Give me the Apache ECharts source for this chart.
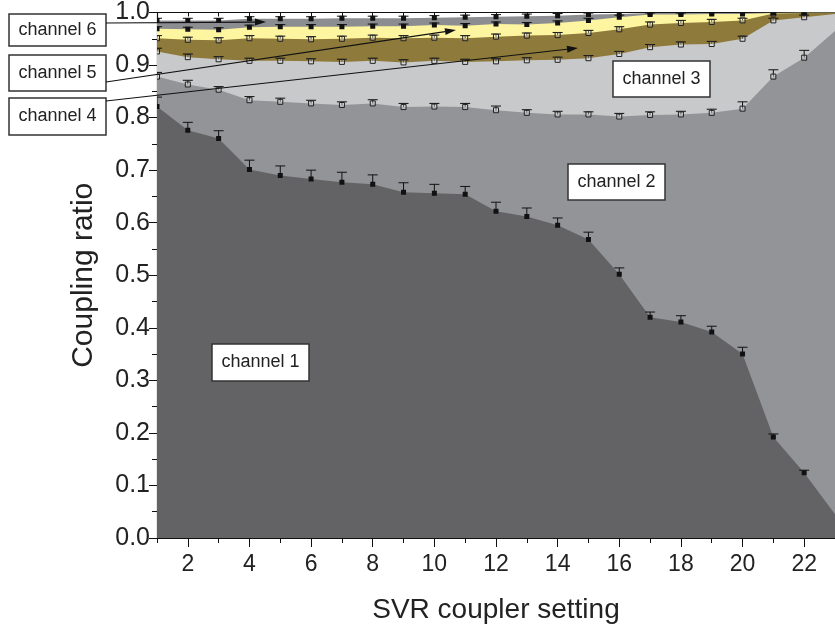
<!DOCTYPE html>
<html>
<head>
<meta charset="utf-8">
<script src="https://cdn.jsdelivr.net/npm/echarts@6/dist/echarts.min.js"></script>
<style>html,body{margin:0;padding:0;background:#fff}#c{width:835px;height:632px}</style>
</head>
<body>
<div id="c"></div>
<script>
// SVR coupler settings
const settings = [1,2,3,4,5,6,7,8,9,10,11,12,13,14,15,16,17,18,19,20,21,22,23];
// Cumulative coupling ratio at the top of each channel
const ch1 = [0.821,0.776,0.760,0.701,0.690,0.683,0.677,0.673,0.658,0.656,0.654,0.622,0.612,0.595,0.568,0.502,0.420,0.411,0.392,0.350,0.192,0.124,0.045];
const ch2 = [0.878,0.863,0.853,0.833,0.830,0.827,0.824,0.827,0.820,0.821,0.820,0.814,0.809,0.806,0.806,0.802,0.805,0.806,0.809,0.817,0.878,0.914,0.965];
const ch3 = [0.926,0.915,0.911,0.908,0.908,0.907,0.906,0.908,0.905,0.908,0.906,0.907,0.909,0.910,0.913,0.921,0.934,0.939,0.940,0.950,0.985,0.991,0.997];
const ch4 = [0.951,0.948,0.947,0.951,0.950,0.949,0.950,0.952,0.951,0.952,0.951,0.954,0.956,0.957,0.961,0.968,0.977,0.980,0.982,0.985,0.998,0.999,0.999];
const ch5 = [0.969,0.968,0.967,0.972,0.973,0.973,0.973,0.974,0.974,0.976,0.975,0.978,0.977,0.980,0.985,0.991,0.996,0.996,0.997,0.997,0.999,1.000,1.000];
const ch6 = [0.985,0.985,0.985,0.988,0.988,0.988,0.989,0.989,0.989,0.990,0.991,0.992,0.993,0.994,0.996,0.997,0.999,0.999,0.999,0.999,1.000,1.000,1.000];
// Upward error bar sizes
const err1 = [0.018,0.015,0.015,0.018,0.018,0.017,0.019,0.018,0.018,0.017,0.015,0.017,0.016,0.014,0.014,0.012,0.010,0.012,0.011,0.013,0.006,0.005,0.005];
const err2 = [0.008,0.008,0.006,0.007,0.007,0.006,0.006,0.007,0.007,0.006,0.007,0.008,0.006,0.006,0.005,0.006,0.006,0.006,0.007,0.013,0.013,0.014,0.010];
const err3 = [0.006,0.006,0.005,0.005,0.005,0.005,0.005,0.005,0.005,0.005,0.005,0.005,0.005,0.005,0.005,0.005,0.005,0.005,0.005,0.005,0.004,0.004,0.004];
const err4 = [0.005,0.005,0.005,0.005,0.005,0.005,0.005,0.005,0.005,0.005,0.005,0.005,0.005,0.005,0.005,0.005,0.005,0.005,0.005,0.004,0.004,0.003,0.003];
const err5 = [0.004,0.004,0.004,0.004,0.004,0.004,0.004,0.004,0.004,0.004,0.004,0.004,0.004,0.004,0.004,0.004,0.003,0.003,0.003,0.003,0.003,0.002,0.002];
const err6 = [0.004,0.004,0.004,0.004,0.004,0.004,0.004,0.004,0.004,0.004,0.004,0.004,0.004,0.004,0.003,0.003,0.003,0.003,0.003,0.003,0.002,0.002,0.002];
const xTickLabels = [2,4,6,8,10,12,14,16,18,20,22];
const channelNames = ['channel 1','channel 2','channel 3','channel 4','channel 5','channel 6'];

const tops = [ch1,ch2,ch3,ch4,ch5,ch6];
const errs = [err1,err2,err3,err4,err5,err6];
const fills = ['#636365','#939497','#c8c9cb','#8e7a3b','#fef5a0','#8c8d90'];
const filledMarker = [true,false,false,false,true,true];
const FONT = '"Liberation Sans", Arial, Helvetica, sans-serif';
const X_MAX = 23;

const chart = echarts.init(document.getElementById('c'), null, {renderer:'canvas'});

const series = [];
// draw from the top channel down so each lower channel covers the one above
for (let k = 5; k >= 0; k--) {
  series.push({
    type:'line', name: channelNames[k], xAxisIndex:0, yAxisIndex:0,
    data: settings.map((x,i)=>[x, tops[k][i]]),
    symbol:'none', lineStyle:{width:0}, areaStyle:{color:fills[k], opacity:1},
    silent:true, z:2
  });
}
const ebData = [];
for (let k = 0; k < 6; k++) {
  settings.forEach((x,i)=>{ if (x < X_MAX) ebData.push([x, tops[k][i], errs[k][i], filledMarker[k]?1:0]); });
}
series.push({
  type:'custom', xAxisIndex:0, yAxisIndex:0, z:5, silent:true, clip:true,
  data: ebData,
  renderItem: function(params, api){
    const x = api.value(0), y = api.value(1), e = api.value(2), f = api.value(3);
    const p = api.coord([x,y]);
    const q = api.coord([x,y+e]);
    const children = [
      {type:'line', shape:{x1:p[0],y1:p[1],x2:q[0],y2:q[1]}, style:{stroke:'#111',lineWidth:1}},
      {type:'line', shape:{x1:q[0]-5,y1:q[1],x2:q[0]+5,y2:q[1]}, style:{stroke:'#111',lineWidth:1}},
      {type:'rect', shape:{x:p[0]-2.5,y:p[1]-2.5,width:5,height:5},
       style: f ? {fill:'#111'} : {fill:'rgba(255,255,255,0.3)', stroke:'#222', lineWidth:1}}
    ];
    return {type:'group', children:children};
  }
});

function box(x,y,w,h,txt){
  return [
    {type:'rect', z:100, shape:{x:x,y:y,width:w,height:h}, style:{fill:'#fff', stroke:'#333', lineWidth:1.5}},
    {type:'text', z:101, x:x+w/2, y:y+h/2, style:{text:txt, font:'18px '+FONT, fill:'#222', align:'center', verticalAlign:'middle'}}
  ];
}
function arrow(x1,y1,x2,y2){
  const a = Math.atan2(y2-y1, x2-x1), L = 11, W = 3.5;
  const bx = x2 - L*Math.cos(a), by = y2 - L*Math.sin(a);
  const nx = -Math.sin(a), ny = Math.cos(a);
  return [
    {type:'line', z:100, shape:{x1:x1,y1:y1,x2:bx,y2:by}, style:{stroke:'#111', lineWidth:1.2}},
    {type:'polygon', z:100, shape:{points:[[x2,y2],[bx+nx*W,by+ny*W],[bx-nx*W,by-ny*W]]}, style:{fill:'#111'}}
  ];
}

const graphics = [].concat(
  box(9,14,97,32,channelNames[5]),
  box(9,55,97,36,channelNames[4]),
  box(9,98,97,37,channelNames[3]),
  box(613,61,97,36,channelNames[2]),
  box(568,164,97,36,channelNames[1]),
  box(212,344,97,37,channelNames[0]),
  arrow(106,23,266,22), arrow(106,82,456,30), arrow(106,101,578,48)
);

chart.setOption({
  animation:false,
  backgroundColor:'#fff',
  grid:{left:157, right:-5, top:12, bottom:94, containLabel:false},
  xAxis:[
    {type:'value', min:1, max:X_MAX, interval:1, position:'bottom',
     name:'SVR coupler setting', nameLocation:'middle', nameGap:58,
     nameTextStyle:{color:'#222', fontSize:28, fontFamily:FONT},
     axisLine:{show:true, onZero:false, lineStyle:{color:'#111', width:1.2}},
     axisTick:{show:true, inside:false, length:5, lineStyle:{color:'#111'}},
     axisLabel:{show:true, customValues:xTickLabels, margin:15, color:'#222', fontSize:23, fontFamily:FONT},
     splitLine:{show:false}},
    {type:'value', min:1, max:X_MAX, position:'bottom',
     axisLine:{show:false, onZero:false},
     axisTick:{show:true, inside:false, length:9, customValues:xTickLabels, lineStyle:{color:'#111'}},
     axisLabel:{show:false}, splitLine:{show:false}},
    {type:'value', min:1, max:X_MAX, interval:1, position:'top',
     axisLine:{show:true, onZero:false, lineStyle:{color:'#111', width:1.2}},
     axisTick:{show:true, inside:true, length:4, lineStyle:{color:'#111'}},
     axisLabel:{show:false}, splitLine:{show:false}}
  ],
  yAxis:[
    {type:'value', min:0, max:1, interval:0.1, position:'left',
     name:'Coupling ratio', nameLocation:'middle', nameGap:58, nameRotate:90,
     nameTextStyle:{color:'#222', fontSize:30, fontFamily:FONT},
     axisLine:{show:true, onZero:false, lineStyle:{color:'#111', width:1.2}},
     axisTick:{show:true, inside:false, length:8, lineStyle:{color:'#111'}},
     minorTick:{show:true, splitNumber:2, length:5, lineStyle:{color:'#111'}},
     axisLabel:{show:true, margin:7, formatter:v=>v.toFixed(1), color:'#222', fontSize:25, fontFamily:FONT},
     splitLine:{show:false}},
    {type:'value', min:0, max:1, interval:0.1, position:'right',
     axisLine:{show:true, onZero:false, lineStyle:{color:'#111', width:1.2}},
     axisTick:{show:true, inside:true, length:5, lineStyle:{color:'#111'}},
     axisLabel:{show:false}, splitLine:{show:false}}
  ],
  series: series,
  graphic: graphics
});
</script>
</body>
</html>
